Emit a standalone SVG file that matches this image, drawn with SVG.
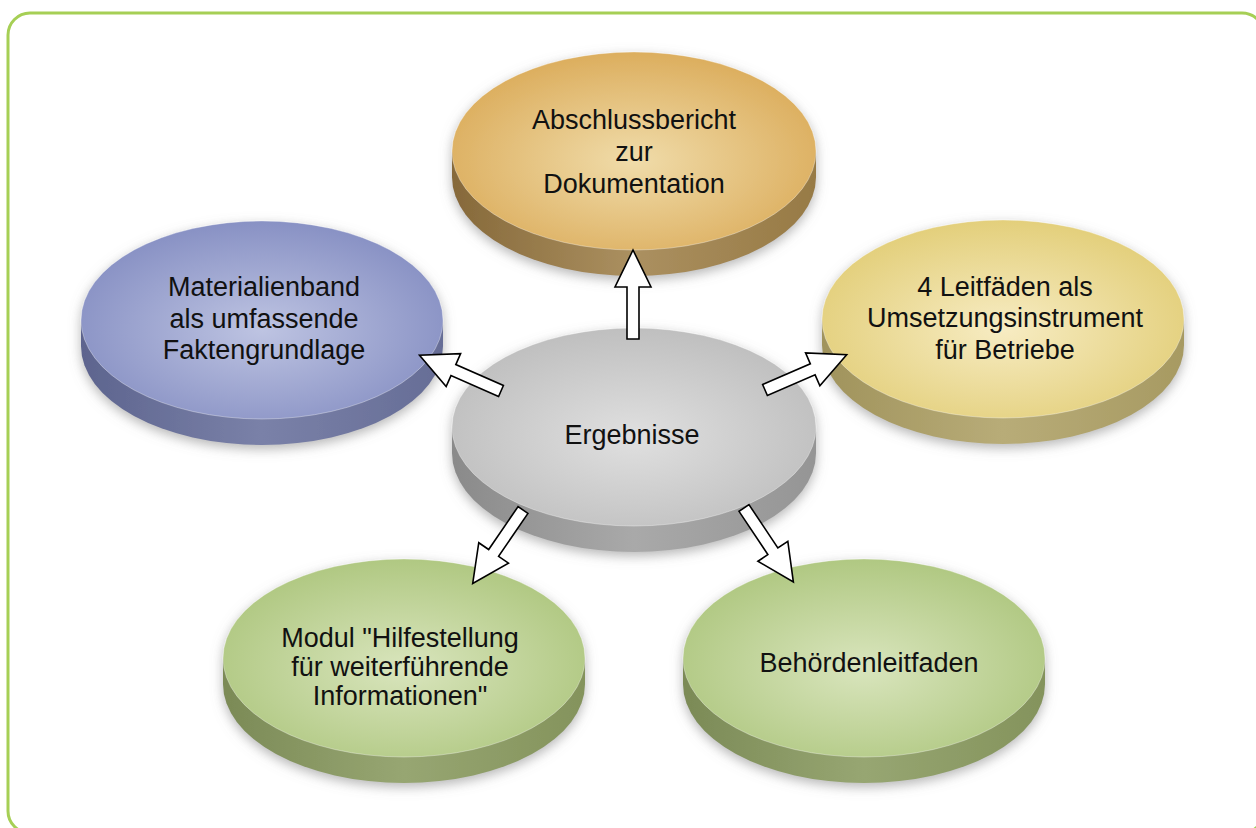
<svg xmlns="http://www.w3.org/2000/svg" width="1256" height="828" viewBox="0 0 1256 828">
  <style>
    .label { font-family: "Liberation Sans", Arial, Helvetica, sans-serif; font-size: 27px; fill: #111; text-anchor: middle; }
    .arrow { fill: #ffffff; stroke: #000000; stroke-width: 1.6; stroke-linejoin: miter; }
    .rim { fill: none; stroke: #ffffff; stroke-opacity: 0.35; stroke-width: 1; }
  </style>
  <defs>
    <filter id="halo" x="-20%" y="-30%" width="140%" height="170%">
      <feGaussianBlur in="SourceAlpha" stdDeviation="6"/>
      <feOffset dx="0" dy="4" result="blur"/>
      <feFlood flood-color="#7a7a7a" flood-opacity="0.55"/>
      <feComposite in2="blur" operator="in"/>
      <feMerge>
        <feMergeNode/>
        <feMergeNode in="SourceGraphic"/>
      </feMerge>
    </filter>

    <!-- top faces -->
    <radialGradient id="faceOrange" cx="50%" cy="55%" r="55%">
      <stop offset="0" stop-color="#f0dcaa"/>
      <stop offset="1" stop-color="#dcae5e"/>
    </radialGradient>
    <radialGradient id="faceGrey" cx="50%" cy="55%" r="55%">
      <stop offset="0" stop-color="#e0e0e0"/>
      <stop offset="1" stop-color="#bfbfbf"/>
    </radialGradient>
    <radialGradient id="faceBlue" cx="50%" cy="55%" r="55%">
      <stop offset="0" stop-color="#bec4e2"/>
      <stop offset="1" stop-color="#8891c4"/>
    </radialGradient>
    <radialGradient id="faceYellow" cx="50%" cy="55%" r="55%">
      <stop offset="0" stop-color="#f7ecc3"/>
      <stop offset="1" stop-color="#e3cf7b"/>
    </radialGradient>
    <radialGradient id="faceGreen" cx="50%" cy="55%" r="55%">
      <stop offset="0" stop-color="#d9e5bd"/>
      <stop offset="1" stop-color="#b0c882"/>
    </radialGradient>

    <!-- disc sides -->
    <linearGradient id="sideOrange" x1="0" y1="0" x2="1" y2="0">
      <stop offset="0" stop-color="#86693a"/>
      <stop offset="0.5" stop-color="#ab9060"/>
      <stop offset="1" stop-color="#977a45"/>
    </linearGradient>
    <linearGradient id="sideGrey" x1="0" y1="0" x2="1" y2="0">
      <stop offset="0" stop-color="#8a8a8a"/>
      <stop offset="0.5" stop-color="#a9a9a9"/>
      <stop offset="1" stop-color="#959595"/>
    </linearGradient>
    <linearGradient id="sideBlue" x1="0" y1="0" x2="1" y2="0">
      <stop offset="0" stop-color="#5d648e"/>
      <stop offset="0.5" stop-color="#7a81a8"/>
      <stop offset="1" stop-color="#666d96"/>
    </linearGradient>
    <linearGradient id="sideYellow" x1="0" y1="0" x2="1" y2="0">
      <stop offset="0" stop-color="#a0935c"/>
      <stop offset="0.5" stop-color="#b8ac78"/>
      <stop offset="1" stop-color="#a79a62"/>
    </linearGradient>
    <linearGradient id="sideGreen" x1="0" y1="0" x2="1" y2="0">
      <stop offset="0" stop-color="#7b8a56"/>
      <stop offset="0.5" stop-color="#97a672"/>
      <stop offset="1" stop-color="#84935c"/>
    </linearGradient>

    <!-- block arrow pointing along +x, tail at origin -->
    <polygon id="blockArrow" points="0,-6 52,-6 52,-18 89,0 52,18 52,6 0,6"/>
  </defs>

  <rect width="1256" height="828" fill="#ffffff"/>

  <!-- frame -->
  <rect x="8" y="13" width="1256" height="820" rx="22" ry="22" fill="none" stroke="#a6cf55" stroke-width="3"/>

  <!-- Abschlussbericht -->
  <g id="node-abschlussbericht">
    <g filter="url(#halo)">
      <path d="M452,151 V177 A182,99 0 0 0 816,177 V151 Z" fill="url(#sideOrange)"/>
      <ellipse cx="634" cy="151" rx="182" ry="99" fill="url(#faceOrange)"/>
      <ellipse class="rim" cx="634" cy="151" rx="182" ry="99"/>
    </g>
    <text class="label" x="634" y="129">Abschlussbericht</text>
    <text class="label" x="634" y="161">zur</text>
    <text class="label" x="634" y="193">Dokumentation</text>
  </g>

  <!-- Materialienband -->
  <g id="node-materialienband">
    <g filter="url(#halo)">
      <path d="M81,320 V346 A181,99 0 0 0 443,346 V320 Z" fill="url(#sideBlue)"/>
      <ellipse cx="262" cy="320" rx="181" ry="99" fill="url(#faceBlue)"/>
      <ellipse class="rim" cx="262" cy="320" rx="181" ry="99"/>
    </g>
    <text class="label" x="264" y="296">Materialienband</text>
    <text class="label" x="264" y="328">als umfassende</text>
    <text class="label" x="264" y="359">Faktengrundlage</text>
  </g>

  <!-- 4 Leitfäden -->
  <g id="node-leitfaeden">
    <g filter="url(#halo)">
      <path d="M822,319 V345 A181,99 0 0 0 1184,345 V319 Z" fill="url(#sideYellow)"/>
      <ellipse cx="1003" cy="319" rx="181" ry="99" fill="url(#faceYellow)"/>
      <ellipse class="rim" cx="1003" cy="319" rx="181" ry="99"/>
    </g>
    <text class="label" x="1005" y="296">4 Leitfäden als</text>
    <text class="label" x="1005" y="327">Umsetzungsinstrument</text>
    <text class="label" x="1005" y="359">für Betriebe</text>
  </g>

  <!-- Ergebnisse -->
  <g id="node-ergebnisse">
    <g filter="url(#halo)">
      <path d="M452,427 V453 A182,99 0 0 0 816,453 V427 Z" fill="url(#sideGrey)"/>
      <ellipse cx="634" cy="427" rx="182" ry="99" fill="url(#faceGrey)"/>
      <ellipse class="rim" cx="634" cy="427" rx="182" ry="99"/>
    </g>
    <text class="label" x="632" y="444">Ergebnisse</text>
  </g>

  <!-- Modul "Hilfestellung ..." -->
  <g id="node-modul">
    <g filter="url(#halo)">
      <path d="M223,658 V684 A181,99 0 0 0 585,684 V658 Z" fill="url(#sideGreen)"/>
      <ellipse cx="404" cy="658" rx="181" ry="99" fill="url(#faceGreen)"/>
      <ellipse class="rim" cx="404" cy="658" rx="181" ry="99"/>
    </g>
    <text class="label" x="400" y="647">Modul "Hilfestellung</text>
    <text class="label" x="400" y="676">für weiterführende</text>
    <text class="label" x="400" y="705">Informationen"</text>
  </g>

  <!-- Behördenleitfaden -->
  <g id="node-behoerdenleitfaden">
    <g filter="url(#halo)">
      <path d="M683,658 V684 A181,99 0 0 0 1045,684 V658 Z" fill="url(#sideGreen)"/>
      <ellipse cx="864" cy="658" rx="181" ry="99" fill="url(#faceGreen)"/>
      <ellipse class="rim" cx="864" cy="658" rx="181" ry="99"/>
    </g>
    <text class="label" x="869" y="672">Behördenleitfaden</text>
  </g>

  <!-- block arrows from the centre disc outwards -->
  <g id="connectors">
    <use href="#blockArrow" class="arrow" transform="translate(633,339) rotate(-90)"/>
    <use href="#blockArrow" class="arrow" transform="translate(501,391) rotate(-156.3)"/>
    <use href="#blockArrow" class="arrow" transform="translate(765,390) rotate(-23.4)"/>
    <use href="#blockArrow" class="arrow" transform="translate(523,510) rotate(124.4)"/>
    <use href="#blockArrow" class="arrow" transform="translate(744,508) rotate(56.3)"/>
  </g>
</svg>
